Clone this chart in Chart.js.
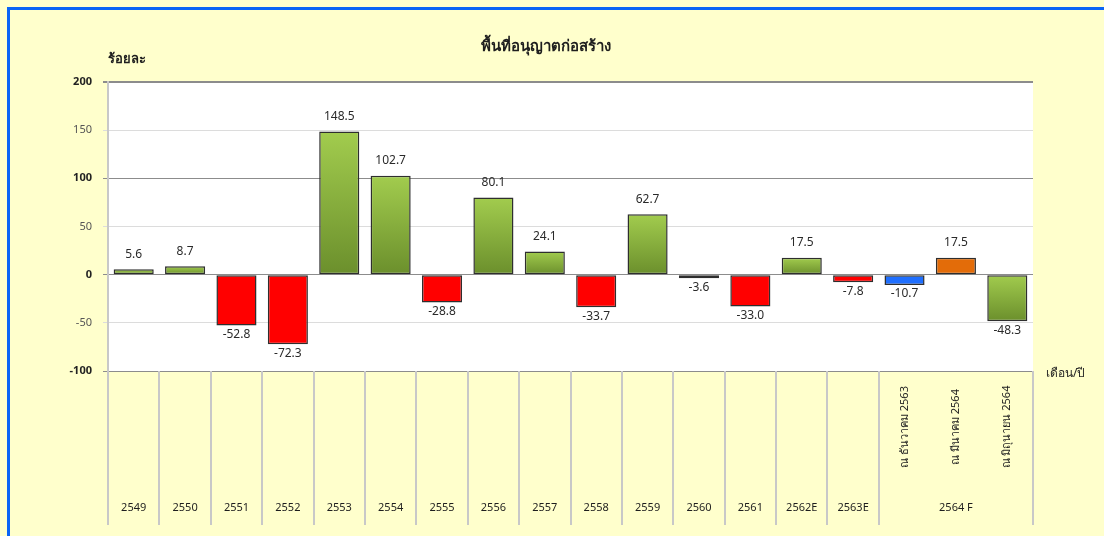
<!DOCTYPE html>
<html>
<head>
<meta charset="utf-8">
<title>พื้นที่อนุญาตก่อสร้าง</title>
<script src="https://cdn.jsdelivr.net/npm/chart.js@4.4.1/dist/chart.umd.min.js"></script>
<style>
  html, body { margin: 0; padding: 0; background: #ffffcc; }
</style>
</head>
<body>
<canvas id="permitChart" width="1104" height="536"></canvas>
<script>
// ---- data ----
var years = ["2549", "2550", "2551", "2552", "2553", "2554", "2555", "2556", "2557",
             "2558", "2559", "2560", "2561", "2562E", "2563E", "", "", ""];
var groupLabel = "2564 F";
var subLabels = ["ณ ธันวาคม 2563", "ณ มีนาคม 2564", "ณ มิถุนายน 2564"];
var values = [5.6, 8.7, -52.8, -72.3, 148.5, 102.7, -28.8, 80.1, 24.1,
              -33.7, 62.7, -3.6, -33.0, 17.5, -7.8, -10.7, 17.5, -48.3];
var majorTicks = [200, 100, 0, -100];

var titleText = "พื้นที่อนุญาตก่อสร้าง";
var yTitle = "ร้อยละ";
var xTitle = "เดือน/ปี";

// ---- styles ----
var thaiFont = 'Tahoma, "Noto Sans", "DejaVu Sans", sans-serif';
// special colours for the forecast columns, everything else by sign
var specialColors = { 15: "#1f6fff", 16: "#e36c09" };

function isMajor(c) {
  return c && c.tick ? majorTicks.indexOf(c.tick.value) >= 0 : false;
}

function barFill(context) {
  var i = context.dataIndex;
  if (specialColors[i]) return specialColors[i];
  var v = values[i];
  if (v < 0 && i !== 17) return "#ff0000";
  var chart = context.chart;
  var y = chart.scales.y;
  if (!y || !chart.chartArea) return "#86b13c";
  var top = y.getPixelForValue(Math.max(v, 0));
  var bottom = y.getPixelForValue(Math.min(v, 0));
  if (!isFinite(top) || !isFinite(bottom) || top === bottom) return "#86b13c";
  var g = chart.ctx.createLinearGradient(0, top, 0, bottom);
  g.addColorStop(0, "#a2cc4e");
  g.addColorStop(1, "#6b8f2c");
  return g;
}

// page background, white plot area and the blue frame
var backdrop = {
  id: "backdrop",
  beforeDraw: function (chart) {
    var ctx = chart.ctx, a = chart.chartArea;
    ctx.save();
    ctx.fillStyle = "#ffffcc";
    ctx.fillRect(0, 0, chart.width, chart.height);
    ctx.fillStyle = "#ffffff";
    ctx.fillRect(a.left, a.top, a.right - a.left, a.bottom - a.top);
    ctx.fillStyle = "#0a64f5";
    ctx.fillRect(7, 7, chart.width - 7, 3);
    ctx.fillRect(7, 7, 3, chart.height - 7);
    ctx.restore();
  }
};

// value labels above / below bars
var valueLabels = {
  id: "valueLabels",
  afterDatasetsDraw: function (chart) {
    var ctx = chart.ctx;
    var meta = chart.getDatasetMeta(0);
    ctx.save();
    ctx.font = "12px " + thaiFont;
    ctx.fillStyle = "#2a2a2a";
    ctx.textAlign = "center";
    meta.data.forEach(function (bar, i) {
      var v = values[i];
      if (v >= 0) {
        ctx.textBaseline = "bottom";
        ctx.fillText(v.toFixed(1), bar.x, bar.y - 9);
      } else {
        ctx.textBaseline = "top";
        ctx.fillText(v.toFixed(1), bar.x, bar.y + 3);
      }
    });
    ctx.restore();
  }
};

// category table under the plot, titles
var tableAxis = {
  id: "tableAxis",
  afterDraw: function (chart) {
    var ctx = chart.ctx, a = chart.chartArea, x = chart.scales.x;
    var half = (x.getPixelForValue(1) - x.getPixelForValue(0)) / 2;
    var n = years.length;
    var first = n - subLabels.length;
    ctx.save();
    ctx.strokeStyle = "#c8c8c8";
    ctx.lineWidth = 2;
    for (var k = 0; k <= n; k++) {
      if (k > first && k < n) continue;
      var bx = Math.round(x.getPixelForValue(Math.min(k, n - 1)) + (k === n ? half : -half));
      ctx.beginPath();
      ctx.moveTo(bx, a.bottom);
      ctx.lineTo(bx, 525);
      ctx.stroke();
    }
    ctx.fillStyle = "#1e1e1e";
    ctx.font = "11px " + thaiFont;
    ctx.textAlign = "center";
    ctx.textBaseline = "middle";
    for (var i = 0; i < first; i++) {
      ctx.fillText(years[i], x.getPixelForValue(i), 508);
    }
    ctx.fillText(groupLabel, (x.getPixelForValue(first) + x.getPixelForValue(n - 1)) / 2, 508);
    for (var j = 0; j < subLabels.length; j++) {
      ctx.save();
      ctx.translate(x.getPixelForValue(first + j), 427);
      ctx.rotate(-Math.PI / 2);
      ctx.fillText(subLabels[j], 0, 0);
      ctx.restore();
    }
    ctx.textAlign = "left";
    ctx.font = "12px " + thaiFont;
    ctx.fillText(xTitle, a.right + 13, a.bottom + 3);
    ctx.font = "bold 13px " + thaiFont;
    ctx.fillText(yTitle, a.left, 59);
    ctx.font = "bold 15px " + thaiFont;
    ctx.textAlign = "center";
    ctx.fillText(titleText, 546, 47);
    ctx.restore();
  }
};

var chart = new Chart(document.getElementById("permitChart"), {
  type: "bar",
  data: {
    labels: years,
    datasets: [{
      data: values,
      backgroundColor: barFill,
      borderColor: "#2e2e2e",
      borderWidth: 1.5,
      borderSkipped: false,
      barPercentage: 0.78,
      categoryPercentage: 1
    }]
  },
  options: {
    responsive: false,
    animation: false,
    layout: { padding: { top: 82, right: 71, bottom: 165, left: 0 } },
    plugins: { legend: { display: false }, tooltip: { enabled: false } },
    scales: {
      x: { display: false },
      y: {
        min: -100,
        max: 200,
        afterFit: function (s) { s.width = 108; },
        ticks: {
          stepSize: 50,
          padding: 11,
          color: function (c) { return isMajor(c) ? "#222" : "#555"; },
          font: function (c) {
            return { family: thaiFont, size: 11, weight: isMajor(c) ? "bold" : "normal" };
          }
        },
        grid: {
          tickLength: 5,
          color: function (c) { return isMajor(c) ? "#8c8c8c" : "#dcdcdc"; },
          lineWidth: function (c) { return c && c.tick && c.tick.value === 200 ? 2 : 1; }
        },
        border: { display: true, color: "#c8c8c8", width: 2 }
      }
    }
  },
  plugins: [backdrop, valueLabels, tableAxis]
});
</script>
</body>
</html>
